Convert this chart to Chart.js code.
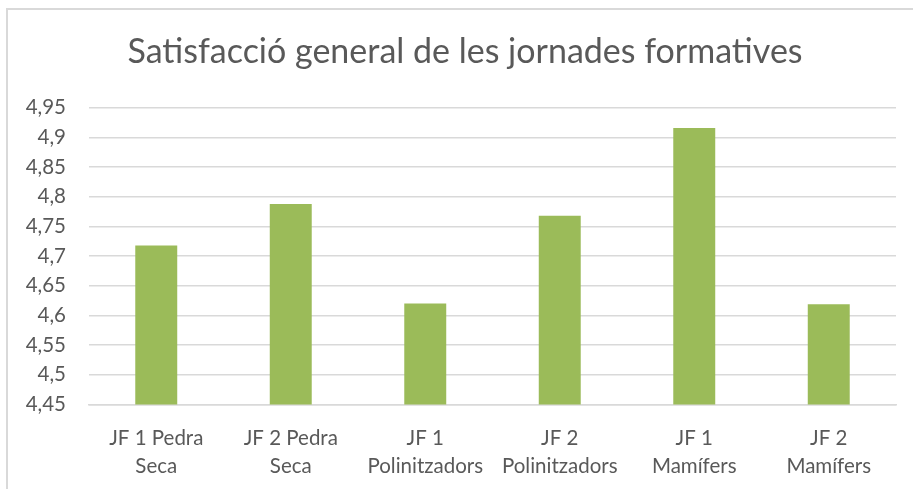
<!DOCTYPE html>
<html>
<head>
<meta charset="utf-8">
<script src="https://cdn.jsdelivr.net/npm/chart.js@4.4.0/dist/chart.umd.min.js"></script>
<style>
  html, body { margin: 0; padding: 0; background: #ffffff; overflow: hidden; }
  #frame { position: absolute; left: 6px; top: 8px; width: 930px; height: 500px; border-left: 2px solid #D9D9D9; border-top: 2px solid #D9D9D9; }
  #wrap { position: absolute; left: 0; top: 0; width: 913px; height: 489px; }
</style>
</head>
<body>
<div id="frame"></div>
<div id="wrap"><canvas id="c" width="913" height="489"></canvas></div>
<script>
const categories = [
  ["JF 1 Pedra", "Seca"],
  ["JF 2 Pedra", "Seca"],
  ["JF 1", "Polinitzadors"],
  ["JF 2", "Polinitzadors"],
  ["JF 1", "Mamífers"],
  ["JF 2", "Mamífers"]
];
const satisfaction = [4.718, 4.788, 4.62, 4.768, 4.916, 4.619];
const yMin = 4.45;
const yMax = 4.95;
const yStep = 0.05;
const chartTitle = "Satisfacció general de les jornades formatives";

const textColor = "#595959";
const fontFamily = "Lato, 'Open Sans', sans-serif";

const shiftTitle = {
  id: "shiftTitle",
  afterLayout(chart) {
    if (chart.titleBlock) { chart.titleBlock.left += 34; }
  }
};

new Chart(document.getElementById("c"), {
  type: "bar",
  data: {
    labels: categories,
    datasets: [{
      data: satisfaction,
      backgroundColor: "#9BBB59",
      borderWidth: 0,
      categoryPercentage: 1,
      barPercentage: 0.312
    }]
  },
  plugins: [shiftTitle],
  options: {
    responsive: false,
    animation: false,
    devicePixelRatio: 1,
    layout: { padding: { left: 0, right: 17, top: 0, bottom: 0 } },
    plugins: {
      legend: { display: false },
      tooltip: { enabled: false },
      title: {
        display: true,
        text: chartTitle,
        color: textColor,
        font: { family: fontFamily, size: 34, weight: "normal" },
        padding: { top: 32, bottom: 35 }
      }
    },
    scales: {
      x: {
        grid: { display: false, drawTicks: false },
        border: { display: true, color: "#D9D9D9", width: 1.5 },
        ticks: {
          color: textColor,
          font: { family: fontFamily, size: 20.5, lineHeight: 1.366 },
          padding: 20,
          maxRotation: 0,
          autoSkip: false
        },
        afterFit: (s) => { s.height = 84.5; }
      },
      y: {
        min: yMin,
        max: yMax,
        grid: { color: "#D9D9D9", lineWidth: 1.5, drawTicks: false },
        border: { display: false },
        ticks: {
          stepSize: yStep,
          color: textColor,
          font: { family: fontFamily, size: 20.5 },
          padding: 23,
          callback: (v) => String(Math.round(v * 100) / 100).replace(".", ",")
        },
        afterFit: (s) => { s.width = 89; }
      }
    }
  }
});
</script>
</body>
</html>
